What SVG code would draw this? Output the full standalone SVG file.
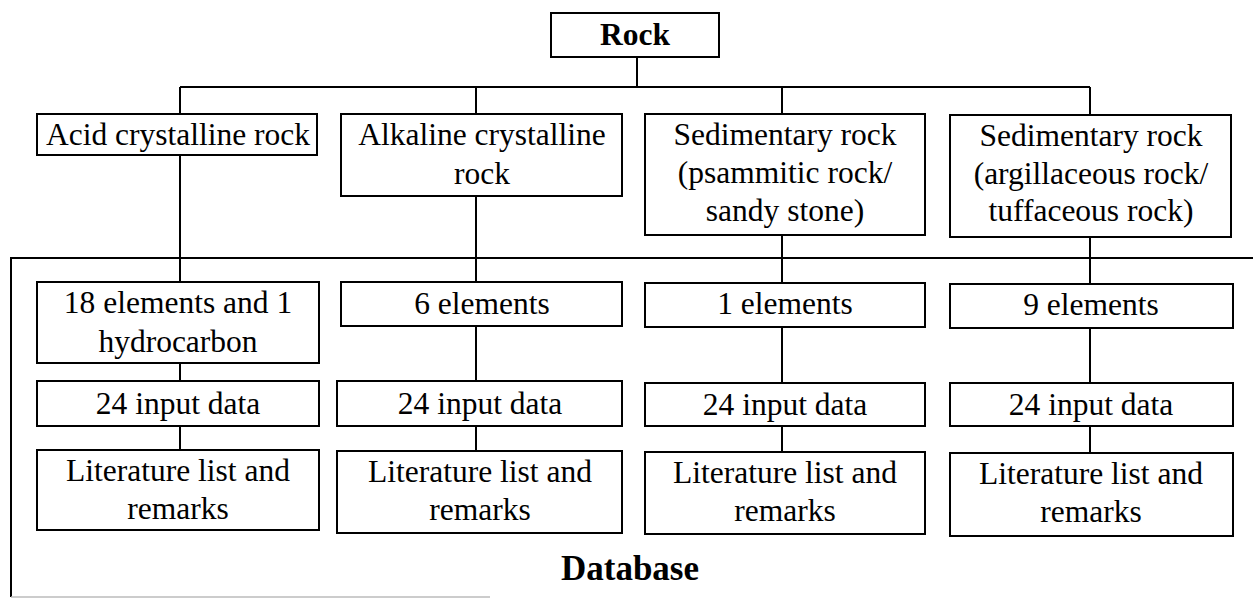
<svg xmlns="http://www.w3.org/2000/svg" width="1253" height="599" viewBox="0 0 1253 599">
<style>
.box{fill:#fff;stroke:#000;stroke-width:2}
.ln{fill:none;stroke:#000;stroke-width:2}
text{font-family:"Liberation Serif","Times New Roman",serif;font-size:31.5px;fill:#000;text-anchor:middle}
.b{font-weight:bold}
</style>
<rect width="1253" height="599" fill="#fff"/>
<g id="database">
<path class="ln" d="M1253,258 H11 V597"/>
<path d="M11,597 H490" fill="none" stroke="#bbb" stroke-width="1.5"/>
<text class="b" x="630" y="580" style="font-size:35px">Database</text>
</g>
<g id="connectors">
<path class="ln" d="M637,57 V87 M180,87 H1090 M180,87 V114 M476,87 V114 M782,87 V114 M1090,87 V115"/>
<path class="ln" d="M180,155 V282 M476,196 V282 M782,235 V283 M1090,237 V284"/>
<path class="ln" d="M180,363 V381 M476,326 V381 M782,327 V383 M1090,328 V383"/>
<path class="ln" d="M180,426 V450 M476,426 V451 M782,426 V452 M1090,426 V453"/>
</g>
<g id="rock"><rect class="box" x="551" y="13" width="168" height="44"/><text class="b" x="635" y="45">Rock</text></g>
<g id="acid"><rect class="box" x="37" y="114" width="280" height="41"/><text x="178" y="145">Acid crystalline rock</text></g>
<g id="alkaline"><rect class="box" x="341" y="114" width="281" height="82"/><text x="482" y="145">Alkaline crystalline</text><text x="482" y="184">rock</text></g>
<g id="sed1"><rect class="box" x="645" y="114" width="280" height="121"/><text x="785" y="145">Sedimentary rock</text><text x="785" y="183">(psammitic rock/</text><text x="785" y="221">sandy stone)</text></g>
<g id="sed2"><rect class="box" x="950" y="115" width="281" height="122"/><text x="1091" y="146">Sedimentary rock</text><text x="1091" y="184">(argillaceous rock/</text><text x="1091" y="221">tuffaceous rock)</text></g>
<g id="el18"><rect class="box" x="37" y="282" width="282" height="81"/><text x="178" y="313">18 elements and 1</text><text x="178" y="352">hydrocarbon</text></g>
<g id="el6"><rect class="box" x="341" y="282" width="281" height="44"/><text x="482" y="314">6 elements</text></g>
<g id="el1"><rect class="box" x="645" y="283" width="280" height="44"/><text x="785" y="314">1 elements</text></g>
<g id="el9"><rect class="box" x="950" y="284" width="283" height="44"/><text x="1091" y="315">9 elements</text></g>
<g id="in1"><rect class="box" x="37" y="381" width="282" height="45"/><text x="178" y="414">24 input data</text></g>
<g id="in2"><rect class="box" x="337" y="381" width="285" height="45"/><text x="480" y="414">24 input data</text></g>
<g id="in3"><rect class="box" x="645" y="383" width="280" height="43"/><text x="785" y="415">24 input data</text></g>
<g id="in4"><rect class="box" x="950" y="383" width="283" height="43"/><text x="1091" y="415">24 input data</text></g>
<g id="lit1"><rect class="box" x="37" y="450" width="282" height="80"/><text x="178" y="481">Literature list and</text><text x="178" y="519">remarks</text></g>
<g id="lit2"><rect class="box" x="337" y="451" width="285" height="82"/><text x="480" y="482">Literature list and</text><text x="480" y="520">remarks</text></g>
<g id="lit3"><rect class="box" x="645" y="452" width="280" height="82"/><text x="785" y="483">Literature list and</text><text x="785" y="521">remarks</text></g>
<g id="lit4"><rect class="box" x="950" y="453" width="283" height="83"/><text x="1091" y="484">Literature list and</text><text x="1091" y="522">remarks</text></g>
</svg>
